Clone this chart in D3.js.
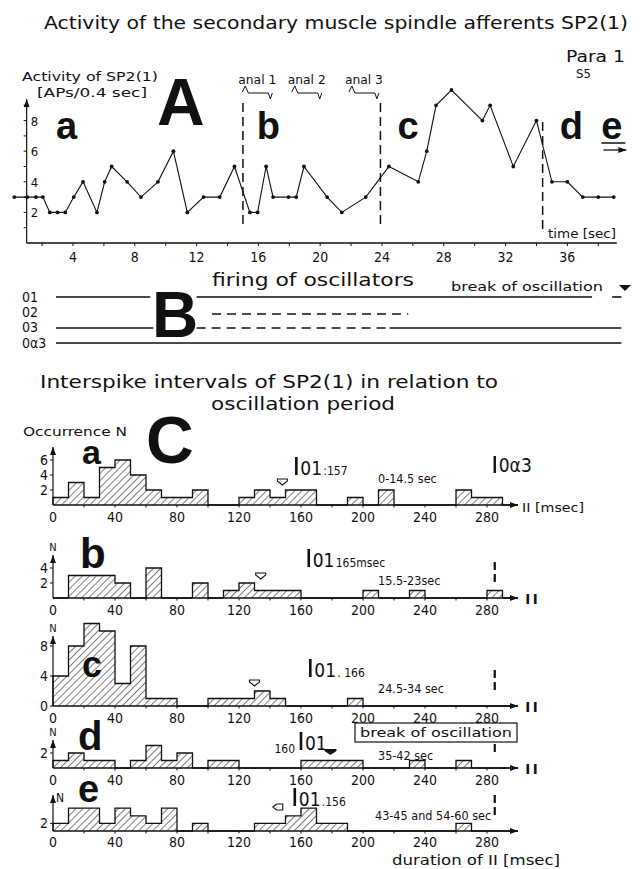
<!DOCTYPE html>
<html><head><meta charset="utf-8">
<script src="https://cdn.jsdelivr.net/npm/d3@7"></script>
<style>body{margin:0;background:#fff}svg{display:block}</style>
</head><body><svg id="c" width="640" height="869"></svg>
<script>
// ---------------- DATA ----------------
// Panel A: activity of SP2(1) (APs / 0.4 sec) over time (sec)
const activityTime  = [0.2,1.05,1.6,2.05,2.5,3.0,3.5,4.05,4.65,5.55,6.05,6.5,7.5,8.4,9.5,10.5,11.4,12.45,13.5,14.45,15.45,15.95,16.5,16.95,17.95,18.45,18.95,20.45,21.4,22.95,24.45,26.35,26.9,27.5,28.5,30.5,31.0,32.5,34.0,35.0,36.0,37.0,38.0,39.0];
const activityValue = [3,3,3,3,2,2,2,3,4,2,4,5,4,3,4,6,2,3,3,5,2,2,5,3,3,3,5,3,2,3,5,4,6,9,10,8,9,5,8,4,4,3,3,3];
const timeTickLabels = [4,8,12,16,20,24,28,32,36];
const activityTickLabels = [2,4,6,8];
const dividerTimes = [15, 23.9, 34.4];
const phaseLetters = ["a","b","c","d","e"];
const phaseLetterTimes = [2.9, 15.9, 25.0, 35.5, 38.2];
const analLabels = ["anal 1","anal 2","anal 3"];
const analTimes = [14.7, 17.9, 21.6];

// Panel B: firing of oscillators (segments in sec)
const oscNames = ["01","02","03","0\u03b13"];
const oscFrom  = [[2.9,12.0,38.9],[13.0],[2.9,12.0,24.5],[2.9]];
const oscTo    = [[9.0,37.6,39.5],[25.7],[9.2,24.3,39.5],[39.5]];
const oscDash  = [[0,0,0],[1],[0,1,0],[0]];

// Panel C: interspike interval histograms, 10 msec bins from 0 msec
const binWidth = 10;
const histA = [1,3,1,5,6,4,2,1,1,2,0,0,1,2,1,2,2,0,0,1,0,2,0,0,0,0,2,1,1,0];
const histB = [0,3,3,3,2,0,4,0,0,2,0,1,2,1,1,1,0,0,0,0,1,0,0,1,0,0,0,0,1,0];
const histC = [4,8,11,10,3,8,1,1,0,0,1,1,1,2,1,0,0,0,0,1,0,0,0,0,0,0,0,0,0,0];
const histD = [1,2,1,1,0,1,3,1,2,0,1,1,0,0,0,0,1,1,1,1,0,0,0,1,0,0,1,0,0,0];
const histE = [2,6,6,2,6,4,2,6,0,2,0,0,0,2,2,4,6,2,2,0,0,0,0,0,0,0,2,0,0,0];
const histNames = ["a","b","c","d","e"];
const histYTicks = [[2,4,6],[2,4],[0,4,8],[2],[2]];
const intervalTicks = [0,40,80,120,160,200,240,280];
const o1Period = [157,165,166,160,156];
const o1Text = [":157"," 165msec",". 166","",".156"];
const meanInterval = [148,134,130,179,145];
const timeRanges = ["0-14.5 sec","15.5-23sec","24.5-34 sec","35-42 sec","43-45 and 54-60 sec"];
const oa3Interval = 285;

// ---------------- LAYOUT ----------------
const FONT = "'DejaVu Sans Condensed','DejaVu Sans',sans-serif";
const BOLD = "'Liberation Sans',Arial,sans-serif";
const svg = d3.select("#c");
const defs = svg.append("defs");
defs.append("pattern").attr("id","hatch").attr("patternUnits","userSpaceOnUse")
  .attr("width",5).attr("height",5).attr("patternTransform","rotate(45)")
  .append("line").attr("x1",0).attr("y1",0).attr("x2",0).attr("y2",5)
  .attr("stroke","#111").attr("stroke-width",1.1);
defs.append("marker").attr("id","arr").attr("viewBox","0 0 8 6").attr("refX",8).attr("refY",3)
  .attr("markerWidth",8).attr("markerHeight",6).attr("markerUnits","userSpaceOnUse").attr("orient","auto")
  .append("path").attr("d","M0,0L8,3L0,6Z").attr("fill","#111");

function txt(x,y,s,size,o={}){
  const t = svg.append("text").attr("x",x).attr("y",y).text(s)
    .attr("font-family",o.bold?BOLD:FONT).attr("font-size",size)
    .attr("font-weight",o.bold?"bold":"normal").attr("fill","#111")
    .attr("text-anchor",o.anchor||"start");
  if(o.len) t.attr("textLength",o.len).attr("lengthAdjust","spacingAndGlyphs");
  return t;
}

// ---------- Panel A ----------
const xA = d3.scaleLinear().domain([0,39.2]).range([11.2,616.8]);
const yA = d3.scaleLinear().domain([0,9.3]).range([243,100.7]);

txt(44,29,"Activity of the secondary muscle spindle afferents SP2(1)",17,{len:584});
txt(566,62,"Para 1",16,{len:59});
txt(576,78,"S5",13);
txt(22,81,"Activity of  SP2(1)",12.5,{len:136});
txt(37,97,"[APs/0.4 sec]",12.5,{len:110});
txt(157,125,"A",66,{bold:true});

// axes
svg.append("line").attr("x1",xA(1)).attr("x2",xA(1)).attr("y1",yA(0)).attr("y2",yA(9.4))
  .attr("stroke","#111").attr("stroke-width",1.2).attr("marker-end","url(#arr)");
svg.append("line").attr("x1",xA(1)).attr("x2",xA(39.2)).attr("y1",yA(0)).attr("y2",yA(0))
  .attr("stroke","#111").attr("stroke-width",1.4);
d3.range(1,10).forEach(v=>{
  svg.append("line").attr("x1",xA(1)-3).attr("x2",xA(1)).attr("y1",yA(v)).attr("y2",yA(v)).attr("stroke","#111");
});
activityTickLabels.forEach(v=>txt(xA(1)+4,yA(v)+5,String(v),13));
d3.range(2,40,2).forEach(t=>{
  svg.append("line").attr("x1",xA(t)).attr("x2",xA(t)).attr("y1",yA(0)).attr("y2",yA(0)+3).attr("stroke","#111");
});
timeTickLabels.forEach(t=>txt(xA(t),262,String(t),14,{anchor:"middle"}));
txt(548,238,"time [sec]",12.5,{len:68});

// dividers
dividerTimes.forEach((t,i)=>{
  svg.append("line").attr("x1",xA(t)).attr("x2",xA(t)).attr("y1",i==2?122:103).attr("y2",229)
    .attr("stroke","#111").attr("stroke-width",1.5).attr("stroke-dasharray","9,5");
});
phaseLetters.forEach((l,i)=>txt(xA(phaseLetterTimes[i]),139,l,38,{bold:true}));
// underline + arrow under "e"
svg.append("line").attr("x1",xA(38.2)).attr("x2",xA(38.2)+24).attr("y1",143).attr("y2",143).attr("stroke","#111").attr("stroke-width",1.5);
svg.append("line").attr("x1",xA(38.2)+2).attr("x2",xA(38.2)+25).attr("y1",150).attr("y2",150).attr("stroke","#111").attr("stroke-width",1.3).attr("marker-end","url(#arr)");

// anal labels + waveforms
analLabels.forEach((s,i)=>{
  const x = xA(analTimes[i]);
  txt(x,84,s,12,{len:38});
  svg.append("path").attr("d",`M${x+4},92L${x+7},86L${x+10},93L${x+30},93L${x+32},99L${x+34},93`)
    .attr("fill","none").attr("stroke","#111").attr("stroke-width",1);
});

// activity line
const pts = activityTime.map((t,i)=>[t,activityValue[i]]);
svg.append("path").attr("d",d3.line().x(d=>xA(d[0])).y(d=>yA(d[1]))(pts))
  .attr("fill","none").attr("stroke","#111").attr("stroke-width",1.1);
svg.selectAll("circle.pt").data(pts).join("circle").attr("class","pt")
  .attr("cx",d=>xA(d[0])).attr("cy",d=>yA(d[1])).attr("r",1.9).attr("fill","#111");

// ---------- Panel B ----------
txt(212,286,"firing of oscillators",17,{len:202});
txt(451,291,"break of oscillation",12,{len:152});
svg.append("path").attr("d","M619,285L631,285L625,291Z").attr("fill","#111");
const oscY = [297,314,328,343];
const oscLabY = [302,317,332,348];
oscNames.forEach((n,i)=>{
  txt(22,oscLabY[i],n,14);
  oscFrom[i].forEach((f,j)=>{
    svg.append("line").attr("x1",xA(f)).attr("x2",xA(oscTo[i][j])).attr("y1",oscY[i]).attr("y2",oscY[i])
      .attr("stroke","#111").attr("stroke-width",1.6)
      .attr("stroke-dasharray",oscDash[i][j]?"9,6":null);
  });
});
txt(152,337,"B",64,{bold:true});

// ---------- Panel C ----------
txt(40,388,"Interspike intervals of SP2(1) in relation to",17,{len:458});
txt(211,410,"oscillation period",17,{len:184});
txt(23,436,"Occurrence N",12.5,{len:104});
txt(146,463,"C",66,{bold:true});

const xH = d3.scaleLinear().domain([0,300]).range([53,518]);
const histData = [histA,histB,histC,histD,histE];
const baseY = [505,598,706,768,831];
const unitPx = [7.5,7.5,7.5,7.5,3.8];
const axisTop = [447,555,636,740,795];
const letterPos = [[82,464,34],[80,568,42],[82,677,36],[78,750,40],[78,802,38]];
const o1Y = [475,567,677,750,806];
const rangeY = [483,585,693,760,820];
const meanY = [482,576,683,752,807];

histData.forEach((counts,h)=>{
  const base = baseY[h];
  const yH = d3.scaleLinear().domain([0,1]).range([base, base-unitPx[h]]);
  const series = [[0,0]].concat(counts.map((c,i)=>[i*binWidth,c])).concat([[300,0]]);
  svg.append("path").attr("d",d3.area().x(d=>xH(d[0])).y0(base).y1(d=>yH(d[1])).curve(d3.curveStepAfter)(series))
    .attr("fill","url(#hatch)").attr("stroke","none");
  svg.append("path").attr("d",d3.line().x(d=>xH(d[0])).y(d=>yH(d[1])).curve(d3.curveStepAfter)(series))
    .attr("fill","none").attr("stroke","#111").attr("stroke-width",1.3);
  // x axis
  svg.append("line").attr("x1",xH(0)).attr("x2",xH(300)).attr("y1",base).attr("y2",base)
    .attr("stroke","#111").attr("stroke-width",1.3).attr("marker-end","url(#arr)");
  d3.range(20,300,20).forEach(v=>{
    svg.append("line").attr("x1",xH(v)).attr("x2",xH(v)).attr("y1",base).attr("y2",base+2.5).attr("stroke","#111");
  });
  intervalTicks.forEach(v=>txt(xH(v),base+(h==4?16:17),String(v),14,{anchor:"middle"}));
  // y axis
  svg.append("line").attr("x1",xH(0)).attr("x2",xH(0)).attr("y1",base).attr("y2",axisTop[h])
    .attr("stroke","#111").attr("stroke-width",1.2).attr("marker-end","url(#arr)");
  histYTicks[h].forEach(v=>{
    svg.append("line").attr("x1",xH(0)-3).attr("x2",xH(0)).attr("y1",yH(v)).attr("y2",yH(v)).attr("stroke","#111");
    txt(xH(0)-5,yH(v)+5,String(v),14,{anchor:"end"});
  });
  if(h>0){
    if(h==4) txt(xH(0)+3,axisTop[h]+7,"N",12);
    else txt(xH(0),axisTop[h]-4,"N",11,{anchor:"middle"});
  }
  // letter
  const lp = letterPos[h];
  txt(lp[0],lp[1],histNames[h],lp[2],{bold:true});
  // O1 period marker
  const xo = xH(o1Period[h]);
  svg.append("line").attr("x1",xo).attr("x2",xo).attr("y1",o1Y[h]-18).attr("y2",o1Y[h])
    .attr("stroke","#111").attr("stroke-width",2.6);
  txt(xo+4,o1Y[h],"01",19);
  if(o1Text[h]) txt(xo+27,o1Y[h],o1Text[h],12);
  if(h==3) txt(xo-6,o1Y[h]+3,String(o1Period[h]),12,{anchor:"end"});
  // mean marker
  const xm = xH(meanInterval[h]);
  if(h==3){
    svg.append("path").attr("d",`M${xm-6},${meanY[h]-3}L${xm+6},${meanY[h]-3}L${xm+6},${meanY[h]-1}L${xm},${meanY[h]+3}L${xm-6},${meanY[h]-1}Z`).attr("fill","#111");
  } else if(h==4){
    svg.append("path").attr("d",`M${xm+5},${meanY[h]-3}L${xm+5},${meanY[h]+3}L${xm-1},${meanY[h]+3}L${xm-5},${meanY[h]}L${xm-1},${meanY[h]-3}Z`).attr("fill","#fff").attr("stroke","#111").attr("stroke-width",1.1);
  } else {
    svg.append("path").attr("d",`M${xm-5},${meanY[h]-3}L${xm+5},${meanY[h]-3}L${xm+5},${meanY[h]-1}L${xm},${meanY[h]+3}L${xm-5},${meanY[h]-1}Z`).attr("fill","#fff").attr("stroke","#111").attr("stroke-width",1.1);
  }
  // time range text
  txt(h==4?375:378,rangeY[h],timeRanges[h],12.5);
  // O-alpha-3 dashed marker
  if(h>0){
    svg.append("line").attr("x1",xH(oa3Interval)).attr("x2",xH(oa3Interval)).attr("y1",base-36).attr("y2",base-13)
      .attr("stroke","#111").attr("stroke-width",2.2).attr("stroke-dasharray","8,4");
  }
  // axis name
  if(h==0) txt(522,512,"II [msec]",13,{len:62});
  else if(h<4) txt(524,base+6,"II",14,{len:15});
});
// 0α3 marker in a
svg.append("line").attr("x1",xH(oa3Interval)).attr("x2",xH(oa3Interval)).attr("y1",456).attr("y2",473)
  .attr("stroke","#111").attr("stroke-width",2.4);
txt(xH(oa3Interval)+4,472,"0\u03b13",19);
// break of oscillation box (d)
svg.append("rect").attr("x",355).attr("y",723).attr("width",162).attr("height",19)
  .attr("fill","#fff").attr("stroke","#111").attr("stroke-width",1.2);
txt(360,737,"break of oscillation",13,{len:152});
txt(392,865,"duration of II [msec]",14,{len:168});
</script></body></html>
